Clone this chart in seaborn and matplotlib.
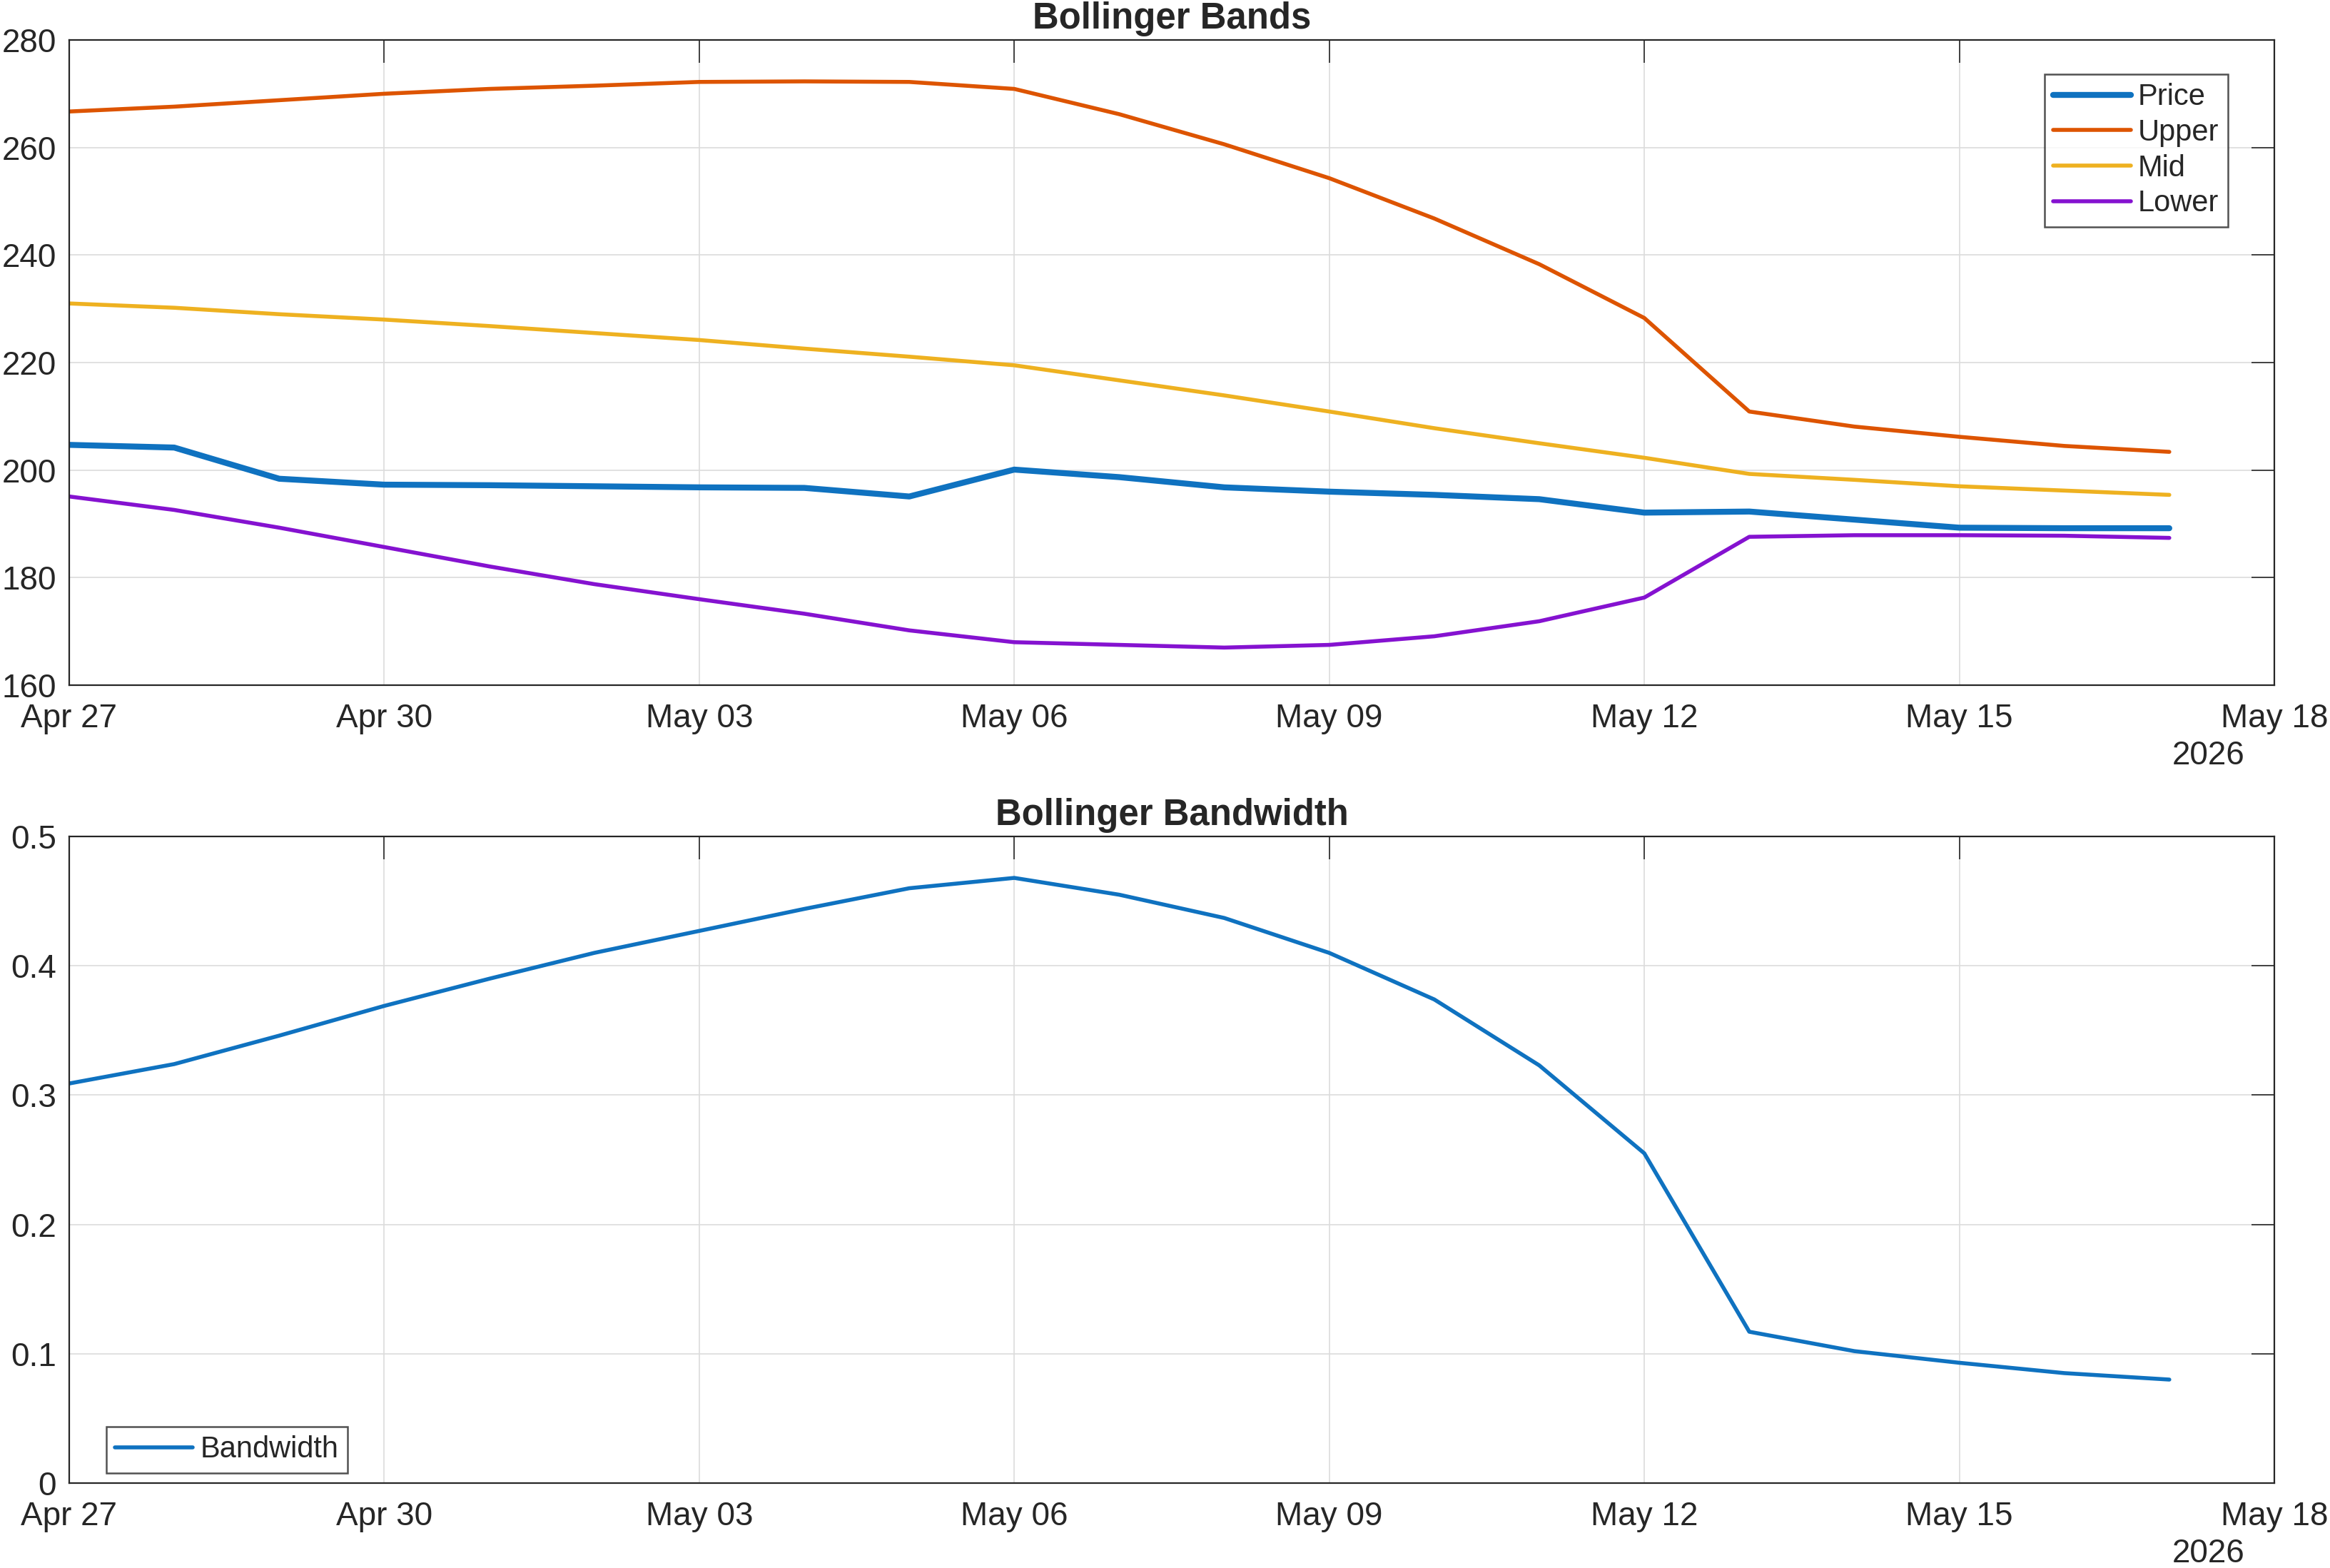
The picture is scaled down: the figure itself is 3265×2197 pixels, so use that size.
import numpy as np
import pandas as pd
import matplotlib
matplotlib.use("Agg")
import matplotlib.pyplot as plt
import matplotlib.dates as mdates
import seaborn as sns

# daily values
dates = pd.date_range("2026-04-27", "2026-05-17", freq="D")
price = [204.7, 204.2, 198.4, 197.3, 197.2, 197.0, 196.8, 196.7, 195.1, 200.1, 198.7,
         196.8, 196.0, 195.4, 194.6, 192.1, 192.3, 190.8, 189.3, 189.2, 189.2]
upper = [266.7, 267.6, 268.8, 270.0, 270.9, 271.5, 272.2, 272.3, 272.2, 270.9, 266.2,
         260.6, 254.3, 246.8, 238.3, 228.3, 210.9, 208.1, 206.2, 204.5, 203.4]
mid = [231.0, 230.2, 229.0, 228.0, 226.8, 225.5, 224.2, 222.6, 221.1, 219.5, 216.7,
       213.9, 210.9, 207.8, 205.0, 202.3, 199.3, 198.2, 197.0, 196.2, 195.4]
lower = [195.1, 192.6, 189.3, 185.7, 182.1, 178.8, 176.0, 173.3, 170.2, 168.0, 167.5,
         167.0, 167.5, 169.1, 171.9, 176.3, 187.6, 187.9, 187.9, 187.8, 187.4]
bandwidth = [0.309, 0.324, 0.346, 0.369, 0.390, 0.410, 0.427, 0.444, 0.460, 0.468, 0.455,
             0.437, 0.410, 0.374, 0.323, 0.255, 0.117, 0.102, 0.093, 0.085, 0.080]

df = pd.DataFrame({"Date": dates, "Price": price, "Upper": upper, "Mid": mid,
                   "Lower": lower, "Bandwidth": bandwidth})

sns.set_style("white")
plt.rcParams['font.family'] = ['Liberation Sans', 'DejaVu Sans']

colors = {"Price": "#0F72C0", "Upper": "#DD5400", "Mid": "#EEB120", "Lower": "#8512D0"}
widths = {"Price": 3.0, "Upper": 2.0, "Mid": 2.0, "Lower": 2.0}
edge = "#262626"

fig = plt.figure(figsize=(16.325, 10.985), dpi=200)
ax1 = fig.add_axes([0.0297, 0.563, 0.9464, 0.4115])
ax2 = fig.add_axes([0.0297, 0.0542, 0.9464, 0.4123])

for name in ["Price", "Upper", "Mid", "Lower"]:
    sns.lineplot(data=df, x="Date", y=name, ax=ax1, color=colors[name],
                 linewidth=widths[name], label=name)
sns.lineplot(data=df, x="Date", y="Bandwidth", ax=ax2, color=colors["Price"],
             linewidth=2.0, label="Bandwidth")

ax1.set_ylim(160, 280)
ax1.set_yticks(np.arange(160, 281, 20))
ax2.set_ylim(0, 0.5)
ax2.set_yticks([0, 0.1, 0.2, 0.3, 0.4, 0.5])
ax2.set_yticklabels(["0", "0.1", "0.2", "0.3", "0.4", "0.5"])

for ax, title in [(ax1, "Bollinger Bands"), (ax2, "Bollinger Bandwidth")]:
    ax.set_xlim(pd.Timestamp("2026-04-27"), pd.Timestamp("2026-05-18"))
    ax.xaxis.set_major_locator(mdates.DayLocator(interval=3))
    ax.xaxis.set_major_formatter(mdates.DateFormatter("%b %d"))
    ax.set_xlabel("")
    ax.set_ylabel("")
    ax.set_title(title, fontsize=18.3, fontweight="bold", color=edge, pad=5.8)
    ax.grid(True, color="#dcdcdc", linewidth=0.6)
    ax.tick_params(axis="both", direction="in", length=11.5, width=0.6, color=edge,
                   labelsize=16.5, labelcolor=edge, top=True, right=True,
                   labeltop=False, labelright=False, pad=6.5)
    ax.tick_params(axis="x", pad=9)
    for s in ax.spines.values():
        s.set_color(edge)
        s.set_linewidth(0.8)
    ax.text(0.970, -0.109, "2026", transform=ax.transAxes, ha="center", va="center",
            fontsize=16.5, color=edge)

leg1 = ax1.legend(loc="upper right", bbox_to_anchor=(0.979, 0.947), fontsize=15,
                  frameon=True, fancybox=False, handlelength=2.6, handletextpad=0.25,
                  labelspacing=0.23, borderpad=0.3, borderaxespad=0)
leg1.get_frame().set_edgecolor(edge)
leg1.get_frame().set_linewidth(0.9)

leg2 = ax2.legend(loc="lower left", bbox_to_anchor=(0.0168, 0.0155), fontsize=15,
                  frameon=True, fancybox=False, handlelength=2.6, handletextpad=0.25,
                  borderpad=0.3, borderaxespad=0)
leg2.get_frame().set_edgecolor(edge)
leg2.get_frame().set_linewidth(0.9)

fig.savefig("out.png", dpi=200)
